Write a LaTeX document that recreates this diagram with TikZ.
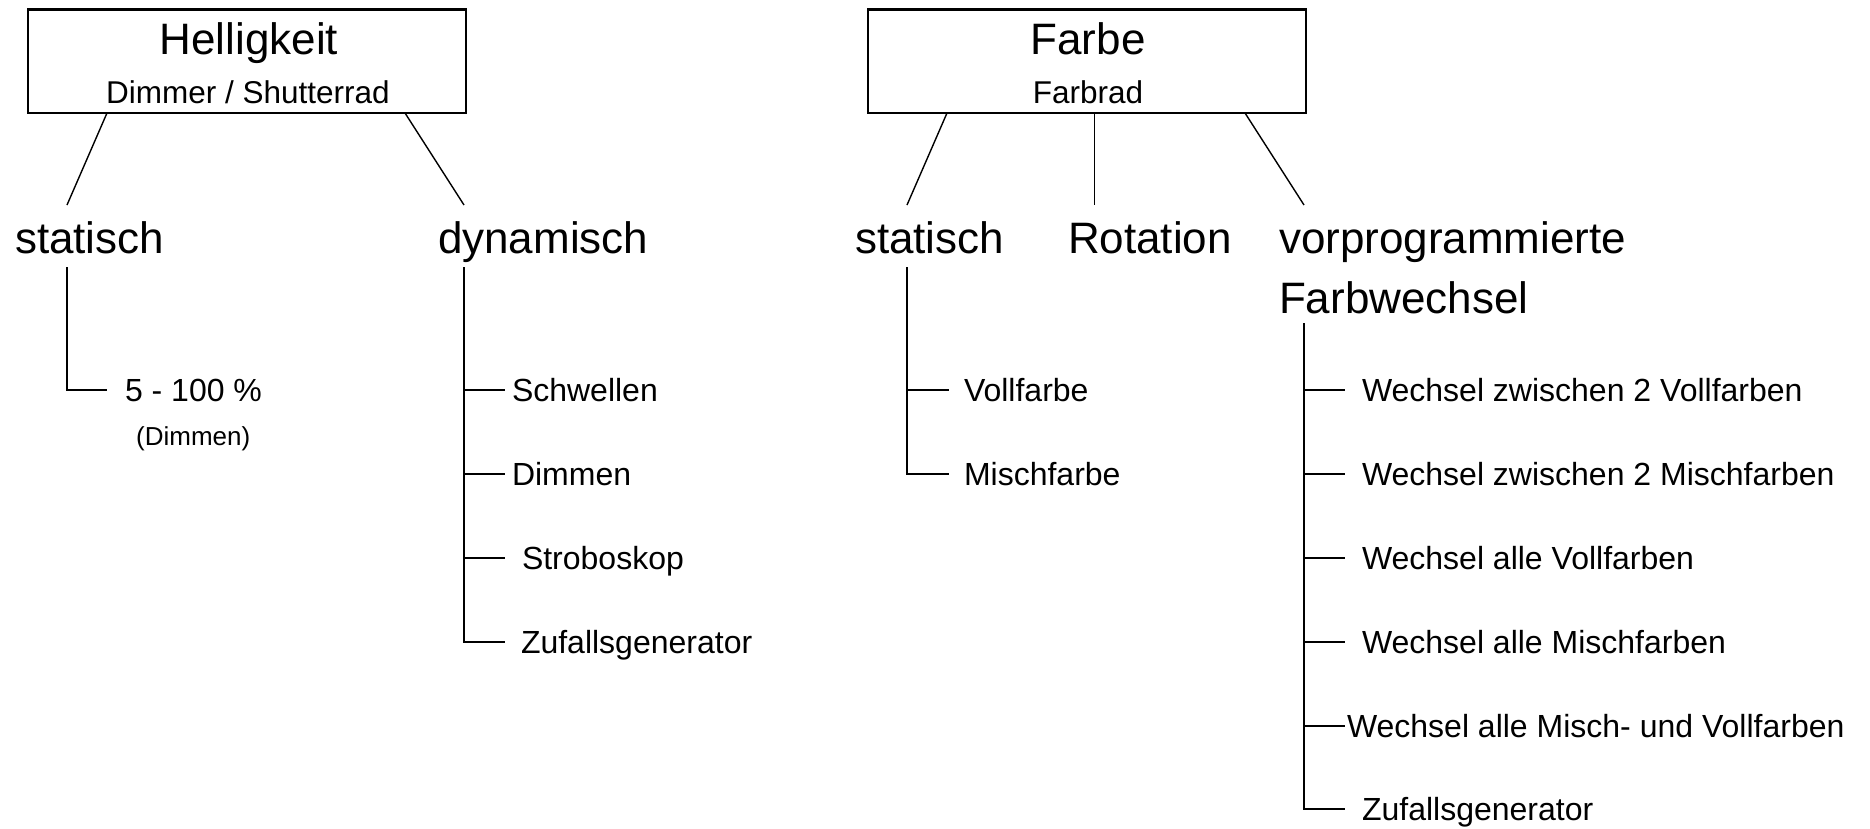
\documentclass[tikz,border=0pt]{standalone}
\usepackage{fontspec}
\setmainfont{Liberation Sans}
\usepackage{tikz}
\usetikzlibrary{
    positioning,
    calc
}

\tikzset{
    kasten/.style={draw, line width=2.7pt, inner sep=0pt, outer sep=0pt,
        minimum width=438pt, minimum height=103.5pt},
    titel/.style={font=\fontsize{44}{50}\selectfont, inner sep=0pt, anchor=base},
    untertitel/.style={font=\fontsize{31.5}{36}\selectfont, inner sep=0pt, anchor=base},
    gruppe/.style={font=\fontsize{44}{60}\selectfont, inner sep=0pt, outer sep=0pt,
        anchor=base west, align=left},
    blatt/.style={font=\fontsize{32}{38}\selectfont, inner ysep=0pt, outer sep=0pt,
        inner xsep=17pt, text height=23pt, text depth=0pt, anchor=west},
    schraeg/.style={line width=1.4pt},
    ast/.style={line width=1.8pt}
}

\begin{document}
\begin{tikzpicture}[x=1pt, y=-1pt]
            \useasboundingbox (0,0) rectangle (1870,828);

            % Kaesten oben
            \node[kasten] (hell) at (247,61.25) {};
            \node[kasten] (farbe) at (1087,61.25) {};
            \node[titel] (hellT) at (249,54) {Helligkeit};
            \node[untertitel] (hellU) at (248,103) {Dimmer / Shutterrad};
            \node[titel] (farbeT) at (1088,54) {Farbe};
            \node[untertitel] (farbeU) at (1088,103) {Farbrad};

            % zweite Ebene (base = letzte Zeile)
            \node[gruppe] (hStat) at (15,253) {statisch};
            \node[gruppe] (hDyn) at (438,253) {dynamisch};
            \node[gruppe] (fStat) at (855,253) {statisch};
            \node[gruppe] (fRot) at (1068,253) {Rotation};
            \node[gruppe] (fVorp) at (1279,313) {vorprogrammierte\\Farbwechsel};

            % Enden der Schraegen und Anfaenge der Aeste
            \coordinate (hStatO) at (67,205);
            \coordinate (hDynO) at (464,205);
            \coordinate (fStatO) at (907,205);
            \coordinate (fRotO) at (1094.5,205);
            \coordinate (fVorpO) at (1304,205);
            \coordinate (hStatU) at (67,267);
            \coordinate (hDynU) at (464,267);
            \coordinate (fStatU) at (907,267);
            \coordinate (fVorpU) at (1304,323);

            \draw[schraeg] ([xshift=79pt]hell.south west) -- (hStatO);
            \draw[schraeg] ([xshift=-61pt]hell.south east) -- (hDynO);
            \draw[schraeg] ([xshift=79pt]farbe.south west) -- (fStatO);
            \draw[schraeg] ([xshift=7.5pt]farbe.south) -- (fRotO);
            \draw[schraeg] ([xshift=-61pt]farbe.south east) -- (fVorpO);

            % Blaetter Helligkeit
            \node[blatt, inner xsep=18pt] (prozent) at (107,390) {5 - 100 \%};
            \node[font=\fontsize{26}{30}\selectfont, inner sep=0pt, anchor=base west]
                (dimmKl) at (136,445) {(Dimmen)};
            \node[blatt, inner xsep=7pt] (schw) at (505,390) {Schwellen};
            \node[blatt, inner xsep=7pt] (dimm) at (505,474) {Dimmen};
            \node[blatt] (strobo) at (505,558) {Stroboskop};
            \node[blatt, inner xsep=16pt] (zufH) at (505,642) {Zufallsgenerator};

            \draw[ast] (hStatU) |- (prozent.west);
            \draw[ast] (hDynU) |- (zufH.west);
            \draw[ast] (hDynU |- schw.west) -- (schw.west);
            \draw[ast] (hDynU |- dimm.west) -- (dimm.west);
            \draw[ast] (hDynU |- strobo.west) -- (strobo.west);

            % Blaetter Farbe
            \node[blatt, inner xsep=15pt] (voll) at (949,390) {Vollfarbe};
            \node[blatt, inner xsep=15pt] (misch) at (949,474) {Mischfarbe};
            \node[blatt] (w1) at (1345,390) {Wechsel zwischen 2 Vollfarben};
            \node[blatt] (w2) at (1345,474) {Wechsel zwischen 2 Mischfarben};
            \node[blatt] (w3) at (1345,558) {Wechsel alle Vollfarben};
            \node[blatt] (w4) at (1345,642) {Wechsel alle Mischfarben};
            \node[blatt, inner xsep=2pt] (w5) at (1345,726) {Wechsel alle Misch- und Vollfarben};
            \node[blatt] (zufF) at (1345,809) {Zufallsgenerator};

            \draw[ast] (fStatU) |- (misch.west);
            \draw[ast] (fStatU |- voll.west) -- (voll.west);
            \draw[ast] (fVorpU) |- (zufF.west);
            \draw[ast] (fVorpU |- w1.west) -- (w1.west);
            \draw[ast] (fVorpU |- w2.west) -- (w2.west);
            \draw[ast] (fVorpU |- w3.west) -- (w3.west);
            \draw[ast] (fVorpU |- w4.west) -- (w4.west);
            \draw[ast] (fVorpU |- w5.west) -- (w5.west);
\end{tikzpicture}
\end{document}
